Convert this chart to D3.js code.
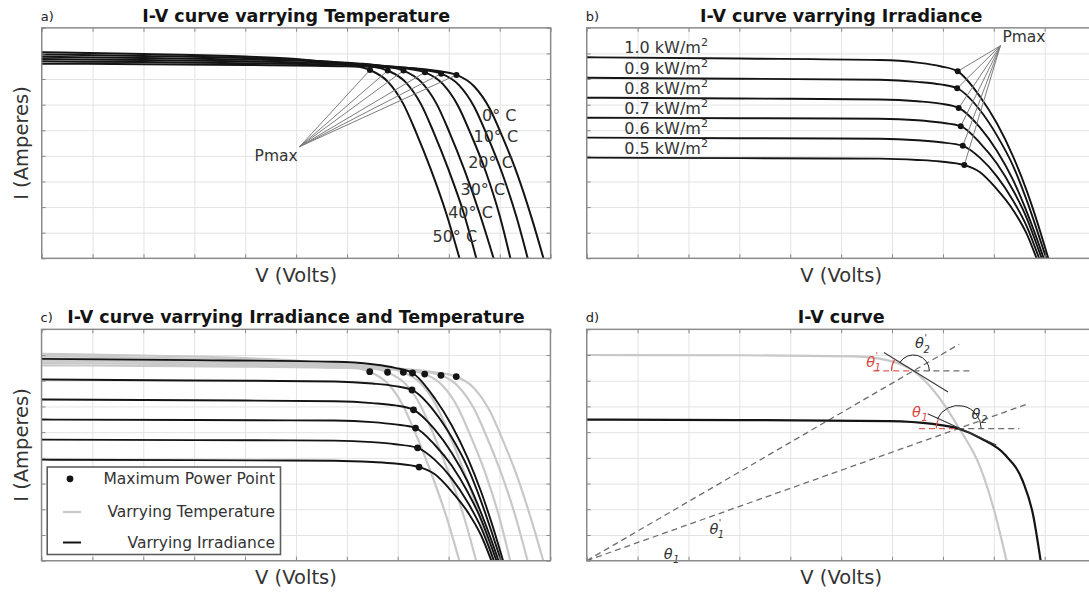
<!DOCTYPE html>
<html>
<head>
<meta charset="utf-8">
<script src="https://cdn.jsdelivr.net/npm/d3@7"></script>
<style>
  body { margin: 0; background: #fff; }
  svg { display: block; font-family: "DejaVu Sans", sans-serif; }
</style>
</head>
<body>
<svg id="fig" width="1089" height="592"></svg>
<script>
// ---------------- data (V in volts-units, I in ampere-units) ----------------
const vTicks = d3.range(0, 11);
const iTicks = d3.range(0, 10);

// Temperature sweep, 0 °C ... 50 °C
const tempLabels = ["0° C", "10° C", "20° C", "30° C", "40° C", "50° C"];
const curveT0  = [[0,7.60],[2,7.58],[4,7.55],[6,7.50],[7.3,7.42],[7.75,7.32],[8.15,7.16],[8.5,6.71],[8.8,5.86],[9.05,4.76],[9.35,3.26],[9.63,1.56],[9.86,0]];
const curveT10 = [[0,7.69],[2,7.66],[4,7.62],[6,7.55],[7.0,7.47],[7.45,7.37],[7.85,7.21],[8.2,6.76],[8.5,5.91],[8.75,4.81],[9.05,3.31],[9.33,1.61],[9.55,0]];
const curveT20 = [[0,7.78],[2,7.74],[4,7.69],[5.8,7.60],[6.68,7.52],[7.13,7.42],[7.53,7.26],[7.88,6.81],[8.18,5.96],[8.43,4.86],[8.73,3.36],[9.0,1.66],[9.21,0]];
const curveT30 = [[0,7.87],[2,7.82],[4,7.76],[5.5,7.68],[6.26,7.60],[6.71,7.50],[7.11,7.33],[7.46,6.88],[7.76,6.03],[8.01,4.93],[8.31,3.43],[8.61,1.72],[8.88,0]];
const curveT40 = [[0,7.96],[2,7.90],[4,7.82],[5.2,7.73],[5.95,7.63],[6.4,7.52],[6.8,7.33],[7.15,6.88],[7.45,6.03],[7.7,4.93],[8.0,3.43],[8.3,1.72],[8.54,0]];
const curveT50 = [[0,8.05],[2,7.98],[4,7.88],[5,7.78],[5.6,7.66],[6.05,7.54],[6.45,7.35],[6.8,6.90],[7.1,6.05],[7.35,4.95],[7.65,3.45],[7.95,1.75],[8.21,0]];
const tempCurves = [curveT0, curveT10, curveT20, curveT30, curveT40, curveT50];
const tempMpp = [[8.15,7.16],[7.85,7.21],[7.53,7.26],[7.11,7.33],[6.80,7.33],[6.45,7.35]];

// Irradiance sweep, 1.0 ... 0.5 kW/m2
const irrLabels = ["1.0", "0.9", "0.8", "0.7", "0.6", "0.5"];
const curveG10 = [[0,7.85],[3,7.80],[5.76,7.74],[6.5,7.64],[6.95,7.50],[7.29,7.30],[7.73,6.31],[8.06,5.27],[8.38,3.97],[8.64,2.67],[8.84,1.50],[9.07,0]];
const curveG09 = [[0,7.05],[3,7.01],[5.76,6.97],[6.5,6.89],[6.95,6.79],[7.28,6.64],[7.73,5.78],[8.06,4.80],[8.38,3.60],[8.64,2.30],[8.84,1.15],[9.03,0]];
const curveG08 = [[0,6.27],[3,6.24],[5.76,6.20],[6.5,6.13],[6.95,6.04],[7.31,5.87],[7.73,5.10],[8.06,4.20],[8.38,3.05],[8.64,1.85],[8.84,0.80],[8.98,0]];
const curveG07 = [[0,5.49],[3,5.47],[5.76,5.45],[6.5,5.39],[6.95,5.30],[7.35,5.16],[7.73,4.50],[8.06,3.70],[8.38,2.65],[8.64,1.60],[8.84,0.55],[8.94,0]];
const curveG06 = [[0,4.71],[3,4.69],[5.76,4.67],[6.5,4.61],[6.95,4.53],[7.39,4.39],[7.73,3.92],[8.06,3.20],[8.38,2.25],[8.64,1.28],[8.89,0]];
const curveG05 = [[0,3.93],[3,3.91],[5.76,3.89],[6.5,3.84],[6.95,3.78],[7.42,3.64],[7.73,3.36],[8.05,2.72],[8.38,1.88],[8.64,0.98],[8.84,0]];
const irrCurves = [curveG10, curveG09, curveG08, curveG07, curveG06, curveG05];
const irrMpp = [[7.29,7.30],[7.28,6.64],[7.31,5.87],[7.35,5.16],[7.39,4.39],[7.42,3.64]];

// Single I-V curve pair with the angle construction
const dGray  = [[0,8.0],[3,7.99],[5.26,7.95],[5.94,7.78],[6.42,7.38],[6.84,6.56],[7.32,5.14],[7.74,3.6],[8.01,1.93],[8.25,0]];
const dBlack = [[0,5.49],[3,5.47],[5.94,5.43],[6.8,5.32],[7.3,5.14],[7.74,4.76],[8.22,4.12],[8.57,3.09],[8.77,1.8],[8.92,0]];
const dKnees = [[6.42,7.38],[7.3,5.14]];
const dRayEnds = [[7.32,8.42],[8.67,6.10]];
const dHorizSpan = [[5.63,7.6],[6.53,8.5]];
const dTangents = [[[5.84,8.10],[7.10,6.56]], [[6.70,5.72],[8.05,4.50]]];

// ---------------- drawing ----------------
const svg = d3.select("#fig");
svg.append("rect").attr("width", 1089).attr("height", 592).attr("fill", "#fff");
const defs = svg.append("defs");

const BOX = "#8a8a8a", GRID = "#e3e3e3", INK = "#141414", LIGHT = "#c8c8c8", RED = "#d9463f";

function makePanel(key, box, tag, title, showY) {
  const x = d3.scaleLinear().domain([0, 10]).range([box.left, box.right]);
  const y = d3.scaleLinear().domain([0, 9]).range([box.bottom, box.top]);
  const w = box.right - box.left, h = box.bottom - box.top;
  const g = svg.append("g");

  g.append("g").attr("transform", `translate(0,${box.bottom})`)
    .call(d3.axisBottom(x).tickValues(vTicks).tickSize(-h).tickFormat(""))
    .call(s => { s.select(".domain").remove(); s.selectAll("line").attr("stroke", GRID); });
  g.append("g").attr("transform", `translate(${box.left},0)`)
    .call(d3.axisLeft(y).tickValues(iTicks).tickSize(-w).tickFormat(""))
    .call(s => { s.select(".domain").remove(); s.selectAll("line").attr("stroke", GRID); });

  defs.append("clipPath").attr("id", "clip-" + key)
    .append("rect").attr("x", box.left).attr("y", box.top).attr("width", w).attr("height", h);
  const plot = g.append("g").attr("clip-path", `url(#clip-${key})`);

  const frame = () => {
    const tk = 4;
    const sides = [
      [d3.axisBottom(x).tickValues(vTicks), `translate(0,${box.bottom})`],
      [d3.axisTop(x).tickValues(vTicks), `translate(0,${box.top})`],
      [d3.axisLeft(y).tickValues(iTicks), `translate(${box.left},0)`],
      [d3.axisRight(y).tickValues(iTicks), `translate(${box.right},0)`]
    ];
    sides.forEach(([ax, tr]) => {
      g.append("g").attr("transform", tr)
        .call(ax.tickSizeInner(-tk).tickSizeOuter(0).tickFormat(""))
        .call(s => { s.select(".domain").remove(); s.selectAll("line").attr("stroke", BOX).attr("stroke-width", 1); });
    });
    g.append("rect").attr("x", box.left).attr("y", box.top).attr("width", w).attr("height", h)
      .attr("fill", "none").attr("stroke", BOX).attr("stroke-width", 1.4);
  };

  const cx = (box.left + box.right) / 2;
  g.append("text").attr("x", cx).attr("y", box.top - 6).attr("text-anchor", "middle")
    .attr("font-size", 17.5).attr("font-weight", "bold").attr("fill", INK).text(title);
  g.append("text").attr("x", box.left - 1).attr("y", box.top - 7).attr("font-size", 13).attr("fill", "#222").text(tag);
  g.append("text").attr("x", cx).attr("y", box.bottom + 23.5).attr("text-anchor", "middle")
    .attr("font-size", 19.5).attr("fill", "#333").text("V (Volts)");
  if (showY) {
    g.append("text").attr("transform", `translate(27.5,${(box.top + box.bottom) / 2}) rotate(-90)`)
      .attr("text-anchor", "middle").attr("font-size", 19.5).attr("fill", "#333").text("I (Amperes)");
  }
  return { x, y, g, plot, frame, box };
}

function curveLine(p) {
  return d3.line().x(d => p.x(d[0])).y(d => p.y(d[1])).curve(d3.curveMonotoneX);
}

// ---- a) temperature ----
const pa = makePanel("a", { left: 41.7, right: 550.6, top: 27.8, bottom: 258.3 }, "a)", "I-V curve varrying Temperature", true);
{
  const ln = curveLine(pa);
  pa.plot.selectAll("path.iv").data(tempCurves).join("path").attr("class", "iv")
    .attr("d", ln).attr("fill", "none").attr("stroke", INK).attr("stroke-width", 2);
  const hub = [5.07, 4.36];
  pa.plot.selectAll("line.lead").data(tempMpp).join("line").attr("class", "lead")
    .attr("x1", pa.x(hub[0])).attr("y1", pa.y(hub[1]))
    .attr("x2", d => pa.x(d[0])).attr("y2", d => pa.y(d[1]))
    .attr("stroke", "#7d7d7d").attr("stroke-width", 1);
  pa.plot.selectAll("circle").data(tempMpp).join("circle")
    .attr("cx", d => pa.x(d[0])).attr("cy", d => pa.y(d[1])).attr("r", 3).attr("fill", INK);
  pa.g.append("text").attr("x", pa.x(hub[0]) - 2).attr("y", 160.5).attr("text-anchor", "end")
    .attr("font-size", 15.5).attr("fill", "#333").text("Pmax");
  const labelPos = [[482, 120.5], [473.5, 141.5], [468.2, 168.3], [460.5, 195], [448.2, 218.3], [432.5, 241.7]];
  pa.g.selectAll("text.tl").data(tempLabels).join("text").attr("class", "tl")
    .attr("x", (d, i) => labelPos[i][0]).attr("y", (d, i) => labelPos[i][1])
    .attr("font-size", 16).attr("fill", "#333").text(d => d);
  pa.frame();
}

// ---- b) irradiance ----
const pb = makePanel("b", { left: 586.7, right: 1095.6, top: 27.8, bottom: 258.3 }, "b)", "I-V curve varrying Irradiance", false);
{
  const ln = curveLine(pb);
  pb.plot.selectAll("path.iv").data(irrCurves).join("path").attr("class", "iv")
    .attr("d", ln).attr("fill", "none").attr("stroke", INK).attr("stroke-width", 1.9);
  const hub = [8.13, 8.30];
  pb.plot.selectAll("line.lead").data(irrMpp).join("line").attr("class", "lead")
    .attr("x1", pb.x(hub[0])).attr("y1", pb.y(hub[1]))
    .attr("x2", d => pb.x(d[0])).attr("y2", d => pb.y(d[1]))
    .attr("stroke", "#7d7d7d").attr("stroke-width", 1);
  pb.plot.selectAll("circle").data(irrMpp).join("circle")
    .attr("cx", d => pb.x(d[0])).attr("cy", d => pb.y(d[1])).attr("r", 3).attr("fill", INK);
  pb.g.append("text").attr("x", pb.x(hub[0]) + 2).attr("y", 41.5)
    .attr("font-size", 15.5).attr("fill", "#333").text("Pmax");
  const lbl = pb.g.selectAll("text.il").data(irrLabels).join("text").attr("class", "il")
    .attr("x", 624.3).attr("y", (d, i) => pb.y(irrCurves[i][0][1]) - 4)
    .attr("font-size", 16).attr("fill", "#333");
  lbl.append("tspan").text(d => d + " kW/m");
  lbl.append("tspan").attr("font-size", 11).attr("dy", -7).text("2");
  pb.frame();
}

// ---- c) irradiance and temperature ----
const pc = makePanel("c", { left: 41.5, right: 550.4, top: 329.3, bottom: 560.7 }, "c)", "I-V curve varrying Irradiance and Temperature", true);
{
  const ln = curveLine(pc);
  pc.plot.selectAll("path.tc").data(tempCurves).join("path").attr("class", "tc")
    .attr("d", ln).attr("fill", "none").attr("stroke", LIGHT).attr("stroke-width", 2.2);
  pc.plot.selectAll("path.ic").data(irrCurves).join("path").attr("class", "ic")
    .attr("d", ln).attr("fill", "none").attr("stroke", INK).attr("stroke-width", 1.9);
  pc.plot.selectAll("circle").data(tempMpp.concat(irrMpp)).join("circle")
    .attr("cx", d => pc.x(d[0])).attr("cy", d => pc.y(d[1])).attr("r", 3.4).attr("fill", INK);

  // legend
  const lg = pc.g.append("g");
  lg.append("rect").attr("x", 47.2).attr("y", 467).attr("width", 233.3).attr("height", 87.5)
    .attr("fill", "#fff").attr("stroke", "#5e5e5e").attr("stroke-width", 1.6);
  lg.append("circle").attr("cx", 70).attr("cy", 478.8).attr("r", 3.4).attr("fill", INK);
  lg.append("line").attr("x1", 63).attr("x2", 81).attr("y1", 512).attr("y2", 512).attr("stroke", LIGHT).attr("stroke-width", 2.2);
  lg.append("line").attr("x1", 63).attr("x2", 81).attr("y1", 542.5).attr("y2", 542.5).attr("stroke", INK).attr("stroke-width", 2);
  const entries = [["Maximum Power Point", 484], ["Varrying Temperature", 517], ["Varrying Irradiance", 548]];
  lg.selectAll("text").data(entries).join("text").attr("x", 275).attr("y", d => d[1])
    .attr("text-anchor", "end").attr("font-size", 15.5).attr("fill", "#333").text(d => d[0]);
  pc.frame();
}

// ---- d) single curve with angle construction ----
const pd = makePanel("d", { left: 586.7, right: 1095.6, top: 329.3, bottom: 560.7 }, "d)", "I-V curve", false);
{
  const ln = curveLine(pd);
  const dash = "6,4";
  // rays from the origin through each knee
  dRayEnds.forEach(e => {
    pd.plot.append("line").attr("x1", pd.x(0)).attr("y1", pd.y(0)).attr("x2", pd.x(e[0])).attr("y2", pd.y(e[1]))
      .attr("stroke", "#6e6e6e").attr("stroke-width", 1.3).attr("stroke-dasharray", dash);
  });
  pd.plot.append("path").attr("d", ln(dGray)).attr("fill", "none").attr("stroke", LIGHT).attr("stroke-width", 2.2);
  pd.plot.append("path").attr("d", ln(dBlack)).attr("fill", "none").attr("stroke", INK).attr("stroke-width", 2.2);

  dKnees.forEach((k, i) => {
    const ky = pd.y(k[1]), kx = pd.x(k[0]);
    const span = dHorizSpan[i];
    pd.plot.append("line").attr("x1", pd.x(span[0])).attr("x2", kx).attr("y1", ky).attr("y2", ky)
      .attr("stroke", RED).attr("stroke-width", 1.3).attr("stroke-dasharray", dash).attr("opacity", 0.85);
    pd.plot.append("line").attr("x1", kx).attr("x2", pd.x(span[1])).attr("y1", ky).attr("y2", ky)
      .attr("stroke", "#6e6e6e").attr("stroke-width", 1.3).attr("stroke-dasharray", dash);
    const t = dTangents[i];
    pd.plot.append("line").attr("x1", pd.x(t[0][0])).attr("y1", pd.y(t[0][1]))
      .attr("x2", pd.x(t[1][0])).attr("y2", pd.y(t[1][1])).attr("stroke", "#3a3a3a").attr("stroke-width", 1.1);
    // tangent direction (pointing up-left) in screen angle
    const ang = Math.atan2(pd.y(t[0][1]) - pd.y(t[1][1]), pd.x(t[1][0]) - pd.x(t[0][0]));
    const up = Math.PI - Math.abs(ang);
    const pt = (r, a) => [kx + r * Math.cos(a), ky - r * Math.sin(a)];
    const rr = 22, rb = i === 0 ? 16 : 23;
    const r0 = pt(rr, Math.PI), r1 = pt(rr, up);
    pd.plot.append("path").attr("d", `M${r0[0]},${r0[1]} A${rr},${rr} 0 0 1 ${r1[0]},${r1[1]}`)
      .attr("fill", "none").attr("stroke", RED).attr("stroke-width", 1.1);
    const b0 = pt(rb, up), b1 = pt(rb, 0);
    pd.plot.append("path").attr("d", `M${b0[0]},${b0[1]} A${rb},${rb} 0 0 1 ${b1[0]},${b1[1]}`)
      .attr("fill", "none").attr("stroke", "#222").attr("stroke-width", 1);
  });

  const theta = (cx, cy, sub, prime, color) => {
    const t = pd.g.append("text").attr("x", cx - 6.5).attr("y", cy + 3.5)
      .attr("font-size", 14.5).attr("font-style", "italic").attr("fill", color).text("θ");
    if (prime) {
      t.append("tspan").attr("font-size", 9).attr("dy", -7.5).attr("dx", 0.5).text("'");
      t.append("tspan").attr("font-size", 10).attr("dy", 12).attr("dx", -3.5).text(sub);
    } else {
      t.append("tspan").attr("font-size", 10).attr("dy", 4.5).attr("dx", 0.5).text(sub);
    }
  };
  theta(pd.x(6.58), pd.y(8.40), "2", true, "#333");
  theta(pd.x(7.69), pd.y(5.65), "2", false, "#333");
  theta(pd.x(5.62), pd.y(7.68), "1", true, RED);
  theta(pd.x(6.52), pd.y(5.74), "1", false, RED);
  theta(pd.x(2.54), pd.y(1.19), "1", true, "#333");
  theta(pd.x(1.64), pd.y(0.22), "1", false, "#333");
  pd.frame();
}
</script>
</body>
</html>
